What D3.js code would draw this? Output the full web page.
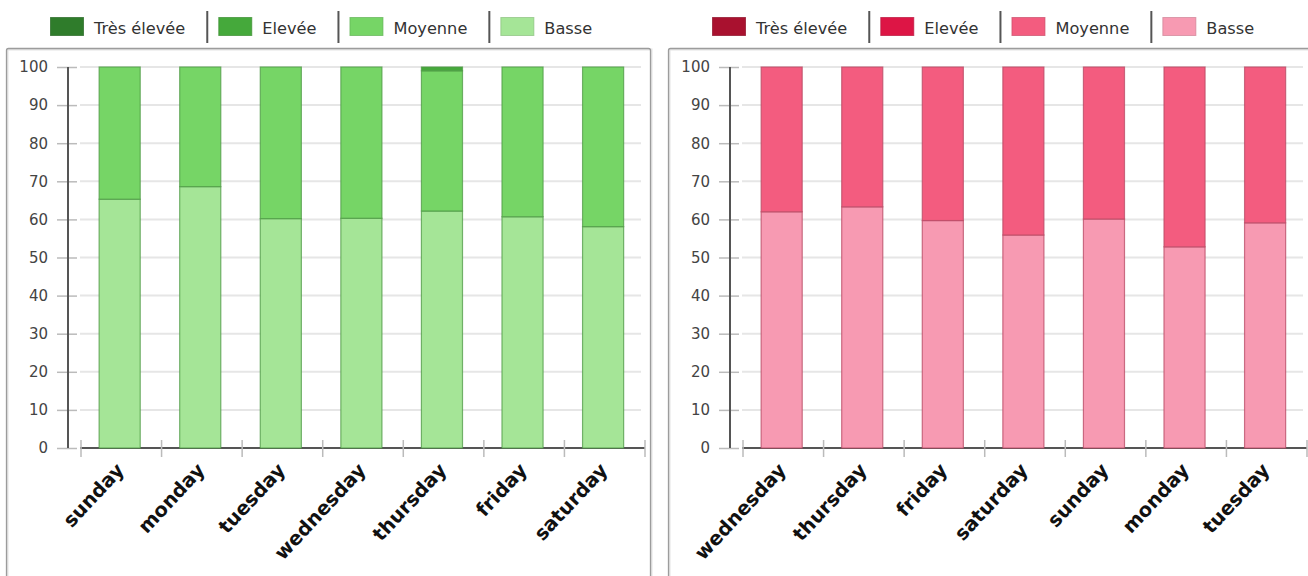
<!DOCTYPE html>
<html>
<head>
<meta charset="utf-8">
<script src="https://cdn.jsdelivr.net/npm/d3@7"></script>
<style>
  body { margin: 0; background: #fff; }
  svg text { font-family: "DejaVu Sans", sans-serif; }
</style>
</head>
<body>
<script>
// legend labels (stack order bottom -> top is the reverse)
let levelNames = ["Très élevée", "Elevée", "Moyenne", "Basse"];
let levelKeys = ["tres", "elevee", "moyenne", "basse"];

// left chart
let daysLeft = ["sunday", "monday", "tuesday", "wednesday", "thursday", "friday", "saturday"];
let basseLeft = [65.3, 68.6, 60.2, 60.3, 62.2, 60.7, 58.1];
let moyenneLeft = [34.7, 31.4, 39.8, 39.7, 36.8, 39.3, 41.9];
let eleveeLeft = [0, 0, 0, 0, 1.0, 0, 0];
let tresLeft = [0, 0, 0, 0, 0, 0, 0];

// right chart
let daysRight = ["wednesday", "thursday", "friday", "saturday", "sunday", "monday", "tuesday"];
let basseRight = [62.0, 63.3, 59.7, 55.9, 60.1, 52.8, 59.1];
let moyenneRight = [38.0, 36.7, 40.3, 44.1, 39.9, 47.2, 40.9];
let eleveeRight = [0, 0, 0, 0, 0, 0, 0];
let tresRight = [0, 0, 0, 0, 0, 0, 0];

let yTicks = [0, 10, 20, 30, 40, 50, 60, 70, 80, 90, 100];

let greens = { tres: "#2f7c2b", elevee: "#45a93b", moyenne: "#76d566", basse: "#a5e597" };
let greenStroke = "#4f9a45";
let pinks = { tres: "#a9112f", elevee: "#dd1545", moyenne: "#f35c7f", basse: "#f79ab2" };
let pinkStroke = "#b84a64";

let svg = d3.select("body").append("svg")
  .attr("width", 1308)
  .attr("height", 576);

function makeRows(days, basse, moyenne, elevee, tres) {
  return days.map((d, i) => ({
    day: d, basse: basse[i], moyenne: moyenne[i], elevee: elevee[i], tres: tres[i]
  }));
}

function drawPanel(offsetX, rows, colors, strokeColor) {
  let g = svg.append("g").attr("transform", "translate(" + offsetX + ",0)");

  // panel frame
  g.append("rect")
    .attr("x", 7.5).attr("y", 49.5)
    .attr("width", 644).attr("height", 580)
    .attr("fill", "none").attr("stroke", "#e4e4e4").attr("stroke-width", 2);
  g.append("rect")
    .attr("x", 6.5).attr("y", 48.5)
    .attr("width", 644).attr("height", 580)
    .attr("fill", "none").attr("stroke", "#9c9c9c").attr("stroke-width", 1.3)
    .attr("rx", 2);

  // legend
  let lx = 50;
  levelNames.forEach((name, i) => {
    let key = levelKeys[i];
    g.append("rect")
      .attr("x", lx + 0.5).attr("y", 17.5)
      .attr("width", 33).attr("height", 18)
      .attr("fill", colors[key])
      .attr("stroke", d3.color(colors[key]).darker(0.5))
      .attr("stroke-opacity", 0.7);
    let t = g.append("text")
      .attr("x", lx + 44).attr("y", 28)
      .attr("dominant-baseline", "central")
      .style("font-size", "16.2px")
      .style("fill", "#333")
      .text(name);
    let w = t.node().getComputedTextLength();
    if (i < levelNames.length - 1) {
      let sx = lx + 44 + w + 22;
      g.append("line")
        .attr("x1", sx).attr("x2", sx)
        .attr("y1", 11).attr("y2", 43)
        .attr("stroke", "#555").attr("stroke-width", 2);
      lx = sx + 11;
    }
  });

  let x = d3.scaleBand()
    .domain(rows.map(r => r.day))
    .range([81, 645])
    .padding(0);

  let y = d3.scaleLinear()
    .domain([0, 100])
    .range([448, 67]);

  // grid lines
  g.append("g").selectAll("line")
    .data(yTicks)
    .enter().append("line")
    .attr("x1", 80).attr("x2", 641)
    .attr("y1", d => y(d)).attr("y2", d => y(d))
    .attr("stroke", "#e6e6e6").attr("stroke-width", 2);

  // y axis
  let yAxis = d3.axisLeft(y).tickValues(yTicks).tickSize(0).tickPadding(20);
  let ya = g.append("g")
    .attr("transform", "translate(68,0)")
    .call(yAxis);
  ya.select(".domain").remove();
  ya.selectAll("text")
    .style("font-size", "15px")
    .style("fill", "#444");
  ya.selectAll(".tick").append("line")
    .attr("x1", -11).attr("x2", 9)
    .attr("stroke", "#bbb").attr("stroke-width", 1.5);
  g.append("line")
    .attr("x1", 68).attr("x2", 68)
    .attr("y1", y(100)).attr("y2", y(0))
    .attr("stroke", "#555").attr("stroke-width", 2);

  // x axis baseline and ticks at band edges
  g.append("line")
    .attr("x1", 80).attr("x2", 645)
    .attr("y1", y(0)).attr("y2", y(0))
    .attr("stroke", "#555").attr("stroke-width", 2);
  let edges = rows.map(r => x(r.day)).concat([x.range()[1]]);
  g.append("g").selectAll("line")
    .data(edges)
    .enter().append("line")
    .attr("x1", d => d).attr("x2", d => d)
    .attr("y1", y(0) - 8).attr("y2", y(0) + 9)
    .attr("stroke", "#bbb").attr("stroke-width", 1.5);

  // stacked bars
  let stack = d3.stack().keys(["basse", "moyenne", "elevee", "tres"]);
  let series = stack(rows);
  let bw = x.bandwidth();
  g.append("g").selectAll("g")
    .data(series)
    .enter().append("g")
    .attr("fill", d => colors[d.key])
    .selectAll("rect")
    .data(d => d.filter(p => p[1] - p[0] > 0))
    .enter().append("rect")
    .attr("x", d => x(d.data.day) + bw * 0.225)
    .attr("width", bw * 0.51)
    .attr("y", d => y(d[1]))
    .attr("height", d => y(d[0]) - y(d[1]))
    .attr("stroke", strokeColor)
    .attr("stroke-opacity", 0.75)
    .attr("stroke-width", 1.2);

  // x labels
  g.append("g").selectAll("text")
    .data(rows)
    .enter().append("text")
    .attr("transform", d => "translate(" + (x(d.day) + bw / 2 + 4) + "," + 471 + ")rotate(-47)")
    .attr("text-anchor", "end")
    .style("font-size", "19.5px")
    .style("font-weight", "bold")
    .style("fill", "#111")
    .text(d => d.day);
}

drawPanel(0, makeRows(daysLeft, basseLeft, moyenneLeft, eleveeLeft, tresLeft), greens, greenStroke);
drawPanel(662, makeRows(daysRight, basseRight, moyenneRight, eleveeRight, tresRight), pinks, pinkStroke);
</script>
</body>
</html>
